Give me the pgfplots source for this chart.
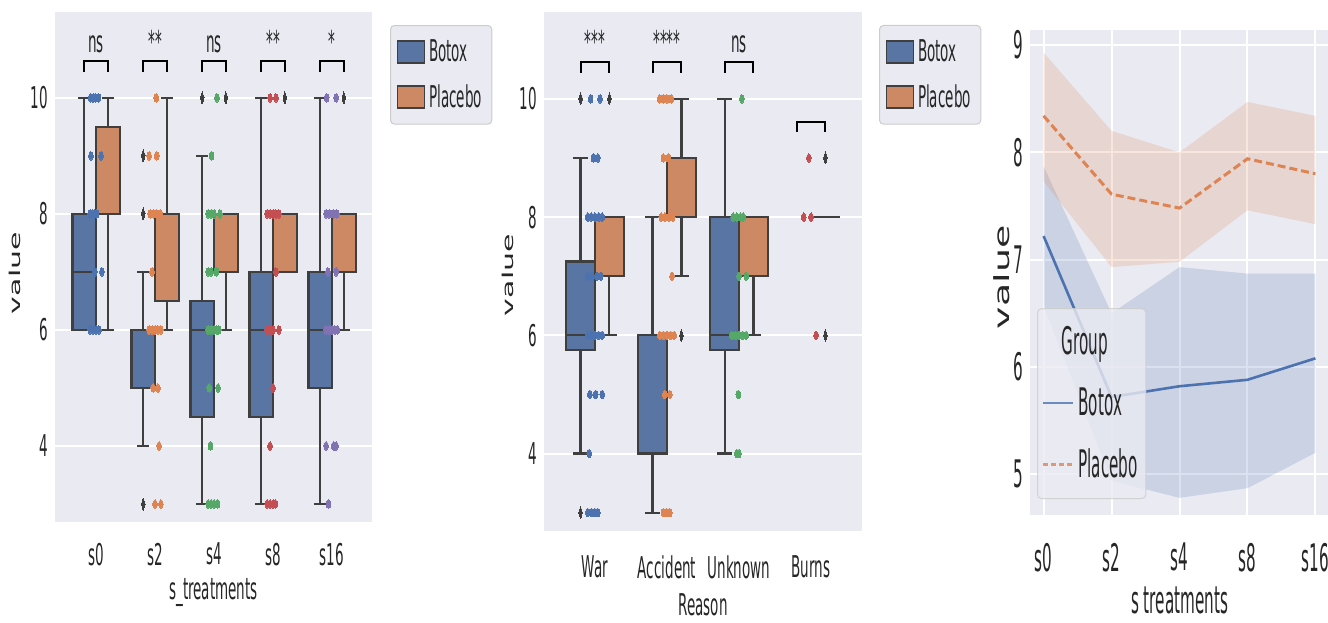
\documentclass[border=0pt]{standalone}
\usepackage{fontspec}
\setmainfont{DejaVu Sans}[FakeStretch=0.45]
\newfontfamily\fontC{DejaVu Sans}[FakeStretch=0.40]
\newfontfamily\plainfont{DejaVu Sans}
\usepackage{graphicx}
\usepackage{pgfplots}
\pgfplotsset{compat=1.18}
\usepgfplotslibrary{statistics}

\definecolor{bgc}{HTML}{EAEAF2}
\definecolor{boxB}{HTML}{5875A4}
\definecolor{boxP}{HTML}{CC8963}
\definecolor{edge}{HTML}{3F3F3F}
\definecolor{txt}{HTML}{262626}
\definecolor{legdraw}{HTML}{CCCCCC}
\definecolor{c0}{HTML}{4C72B0}
\definecolor{c1}{HTML}{DD8452}
\definecolor{c2}{HTML}{55A868}
\definecolor{c3}{HTML}{C44E52}
\definecolor{c4}{HTML}{8172B3}

\pgfplotsset{
  sbbase/.style={
    scale only axis,
    axis background/.style={fill=bgc},
    axis line style={draw=none},
    major tick length=0pt,
    ymajorgrids,
    major grid style={white, line width=1pt},
    tick label style={text=txt},
    label style={text=txt},
    /pgf/number format/assume math mode=true,
  },
  strip/.style={only marks, mark=*, mark size=2.1pt, forget plot, color=#1,
    mark options={xscale=0.55, draw=#1, fill=#1, line width=0pt}},
  bracket/.style={forget plot, black, line width=1pt, mark=none},
  patchB/.style={legend image code/.code={\draw[fill=boxB,draw=edge,line width=0.8pt,sharp corners](0pt,-5.5pt) rectangle (13.5pt,5.5pt);}},
  patchP/.style={legend image code/.code={\draw[fill=boxP,draw=edge,line width=0.8pt,sharp corners](0pt,-5.5pt) rectangle (13.5pt,5.5pt);}},
}

% one box: position, fill, lower whisker, Q1, median, Q3, upper whisker, outlier data
\newcommand{\bx}[8]{%
  \addplot[forget plot,
    boxplot/draw direction=y,
    boxplot prepared={draw position=#1, box extend=0.4, whisker extend=0.2,
      lower whisker=#3, lower quartile=#4, median=#5,
      upper quartile=#6, upper whisker=#7},
    boxplot/every box/.style={fill=#2},
    draw=edge, line width=1.1pt,
    mark=diamond*, mark size=3pt,
    mark options={fill=edge, draw=edge, line width=0pt, xscale=0.4}] #8;}

\begin{document}
\begin{tikzpicture}
\path[use as bounding box] (0,0) rectangle (664pt,311pt);

% ---------------- s_treatments boxplot ----------------
\begin{axis}[sbbase,
  at={(27.5pt,50pt)}, anchor=south west, width=158.5pt, height=255pt,
  xmin=-0.695, xmax=4.678, ymin=2.69, ymax=11.48,
  xtick={0,1,2,3,4}, xticklabels={s0,s2,s4,s8,s16}, ytick={4,6,8,10},
  xticklabel style={yshift=-7pt},
  font=\fontsize{15}{18}\selectfont,
  xlabel={s\_treatments},
  ylabel={\plainfont\scalebox{1}[0.5]{value}},
  xlabel style={at={(axis description cs:0.5,0)}, anchor=center, yshift=-35.5pt},
  ylabel style={at={(axis description cs:-0.126,0.488)}, anchor=center},
  legend style={at={(axis description cs:1,1)}, anchor=north west,
    xshift=9pt, yshift=-6.5pt, draw=legdraw, fill=bgc, rounded corners=2pt,
    line width=0.5pt, inner xsep=3pt, inner ysep=5pt, row sep=6pt,
    text=txt, font=\fontsize{15}{18}\selectfont},
  legend cell align=left,
]
\addlegendimage{patchB}\addlegendentry{Botox}
\addlegendimage{patchP}\addlegendentry{Placebo}

\bx{-0.2}{boxB}{6}{6}{7}{8}{10}{coordinates {}}
\bx{0.2}{boxP}{6}{8}{8}{9.5}{10}{coordinates {}}
\bx{0.8}{boxB}{4}{5}{6}{6}{7}{table[row sep=\\,y index=0]{data\\ 9\\ 8\\ 3\\}}
\bx{1.2}{boxP}{6}{6.5}{8}{8}{10}{coordinates {}}
\bx{1.8}{boxB}{3}{4.5}{6}{6.5}{9}{table[row sep=\\,y index=0]{data\\ 10\\}}
\bx{2.2}{boxP}{6}{7}{8}{8}{8}{table[row sep=\\,y index=0]{data\\ 10\\}}
\bx{2.8}{boxB}{3}{4.5}{6}{7}{10}{coordinates {}}
\bx{3.2}{boxP}{7}{7}{8}{8}{8}{table[row sep=\\,y index=0]{data\\ 10\\}}
\bx{3.8}{boxB}{3}{5}{6}{7}{10}{coordinates {}}
\bx{4.2}{boxP}{6}{7}{8}{8}{8}{table[row sep=\\,y index=0]{data\\ 10\\}}

\addplot[strip=c0] coordinates {(-0.09,10)(-0.05,10)(-0.01,10)(0.04,10)
  (-0.085,9)(0.085,9)(-0.1,8)(-0.06,8)(-0.02,8)(0.01,8)(-0.02,7)(0.1,7)
  (-0.1,6)(-0.05,6)(0,6)(0.05,6)};
\addplot[strip=c1] coordinates {(1.02,10)(0.9,9)(1.03,9)
  (0.92,8)(0.97,8)(1.02,8)(1.09,8)(0.95,7)
  (0.9,6)(0.95,6)(1.0,6)(1.05,6)(1.1,6)(0.97,5)(1.05,5)(1.07,4)(1.0,3)(1.1,3)};
\addplot[strip=c2] coordinates {(2.05,10)(1.96,9)
  (1.9,8)(1.95,8)(2.0,8)(2.1,8)(1.9,7)(1.95,7)(2.04,7)
  (1.9,6)(1.95,6)(2.0,6)(2.05,6)(2.08,6)(1.92,5)(2.07,5)(1.94,4)
  (1.9,3)(1.95,3)(2.0,3)(2.06,3)};
\addplot[strip=c3] coordinates {(2.95,10)(3.05,10)
  (2.9,8)(2.95,8)(3.0,8)(3.05,8)(3.1,8)(3.05,7)
  (2.9,6)(2.95,6)(3.0,6)(3.1,6)(3.0,5)(2.95,4)
  (2.9,3)(2.95,3)(3.0,3)(3.04,3)};
\addplot[strip=c4] coordinates {(3.91,10)(4.07,10)
  (3.9,8)(3.95,8)(4.02,8)(4.08,8)(3.93,7)(4.07,7)
  (3.9,6)(3.95,6)(4.0,6)(4.05,6)(4.09,6)(3.9,4)(4.03,4)(4.07,4)(3.94,3)};

\addplot[bracket] coordinates {(-0.2,10.45)(-0.2,10.64)(0.2,10.64)(0.2,10.45)};
\addplot[bracket] coordinates {(0.8,10.45)(0.8,10.64)(1.2,10.64)(1.2,10.45)};
\addplot[bracket] coordinates {(1.8,10.45)(1.8,10.64)(2.2,10.64)(2.2,10.45)};
\addplot[bracket] coordinates {(2.8,10.45)(2.8,10.64)(3.2,10.64)(3.2,10.45)};
\addplot[bracket] coordinates {(3.8,10.45)(3.8,10.64)(4.2,10.64)(4.2,10.45)};
\node[anchor=base, text=txt] at (axis cs:0,10.78) {ns};
\node[anchor=base, text=txt] at (axis cs:1,10.78) {**};
\node[anchor=base, text=txt] at (axis cs:2,10.78) {ns};
\node[anchor=base, text=txt] at (axis cs:3,10.78) {**};
\node[anchor=base, text=txt] at (axis cs:4,10.78) {*};
\end{axis}

% ---------------- Reason boxplot ----------------
\begin{axis}[sbbase,
  at={(272pt,45.5pt)}, anchor=south west, width=159pt, height=259.5pt,
  xmin=-0.708, xmax=3.708, ymin=2.69, ymax=11.47,
  xtick={0,1,2,3}, xticklabels={War,Accident,Unknown,Burns}, ytick={4,6,8,10},
  xticklabel style={yshift=-9pt},
  font=\fontsize{15}{18}\selectfont,
  xlabel={Reason},
  ylabel={\plainfont\scalebox{1}[0.5]{value}},
  xlabel style={at={(axis description cs:0.5,0)}, anchor=center, yshift=-37pt},
  ylabel style={at={(axis description cs:-0.113,0.493)}, anchor=center},
  legend style={at={(axis description cs:1,1)}, anchor=north west,
    xshift=8.5pt, yshift=-6.5pt, draw=legdraw, fill=bgc, rounded corners=2pt,
    line width=0.5pt, inner xsep=3pt, inner ysep=5pt, row sep=6pt,
    text=txt, font=\fontsize{15}{18}\selectfont},
  legend cell align=left,
]
\addlegendimage{patchB}\addlegendentry{Botox}
\addlegendimage{patchP}\addlegendentry{Placebo}

\bx{-0.2}{boxB}{4}{5.75}{6}{7.25}{9}{table[row sep=\\,y index=0]{data\\ 10\\ 3\\}}
\bx{0.2}{boxP}{6}{7}{8}{8}{8}{table[row sep=\\,y index=0]{data\\ 10\\}}
\bx{0.8}{boxB}{3}{4}{6}{6}{8}{coordinates {}}
\bx{1.2}{boxP}{7}{8}{8}{9}{10}{table[row sep=\\,y index=0]{data\\ 6\\}}
\bx{1.8}{boxB}{4}{5.75}{6}{8}{10}{coordinates {}}
\bx{2.2}{boxP}{6}{7}{8}{8}{8}{coordinates {}}
\bx{3.2}{boxP}{8}{8}{8}{8}{8}{table[row sep=\\,y index=0]{data\\ 9\\ 6\\}}

\addplot[strip=c0] coordinates {(-0.06,10)(0.07,10)(-0.02,9)(0.04,9)
  (-0.1,8)(-0.05,8)(0,8)(0.05,8)(0.1,8)(-0.1,7)(-0.04,7)(0.03,7)(0.08,7)
  (-0.1,6)(-0.05,6)(0,6)(0.05,6)(0.1,6)(-0.07,5)(0.01,5)(0.1,5)(-0.08,4)
  (-0.1,3)(-0.05,3)(0,3)(0.04,3)};
\addplot[strip=c1] coordinates {(0.9,10)(0.95,10)(1.0,10)(1.06,10)(0.95,9)(1.02,9)
  (0.92,8)(0.97,8)(1.03,8)(1.08,8)(1.07,7)
  (0.9,6)(0.95,6)(1.0,6)(1.05,6)(1.1,6)(0.97,5)(1.04,5)(0.95,3)(1.0,3)(1.04,3)};
\addplot[strip=c2] coordinates {(2.04,10)(1.92,8)(1.97,8)(2.02,8)(2.06,8)(2.0,7)(2.1,7)
  (1.9,6)(1.95,6)(2.0,6)(2.05,6)(2.1,6)(1.99,5)(1.97,4)(2.0,4)};
\addplot[strip=c3] coordinates {(2.97,9)(2.9,8)(3.0,8)(3.07,6)};

\addplot[bracket] coordinates {(-0.2,10.44)(-0.2,10.63)(0.2,10.63)(0.2,10.44)};
\addplot[bracket] coordinates {(0.8,10.44)(0.8,10.63)(1.2,10.63)(1.2,10.44)};
\addplot[bracket] coordinates {(1.8,10.44)(1.8,10.63)(2.2,10.63)(2.2,10.44)};
\addplot[bracket] coordinates {(2.8,9.44)(2.8,9.61)(3.2,9.61)(3.2,9.44)};
\node[anchor=base, text=txt] at (axis cs:0,10.78) {***};
\node[anchor=base, text=txt] at (axis cs:1,10.78) {****};
\node[anchor=base, text=txt] at (axis cs:2,10.78) {ns};
\end{axis}

% ---------------- mean lines with bands ----------------
\begin{axis}[sbbase,
  at={(515pt,53.5pt)}, anchor=south west, width=149.5pt, height=242.5pt,
  xmin=-0.2, xmax=4.2, ymin=4.62, ymax=9.14,
  xmajorgrids,
  xtick={0,1,2,3,4}, xticklabels={s0,s2,s4,s8,s16}, ytick={5,6,7,8,9},
  xticklabel style={yshift=-10.5pt},
  font=\fontC\fontsize{19}{22}\selectfont,
  xlabel={s treatments},
  ylabel={\plainfont\scalebox{1}[0.55]{value}},
  xlabel style={at={(axis description cs:0.5,0)}, anchor=center, yshift=-42.5pt, inner sep=0.5pt},
  ylabel style={at={(axis description cs:-0.094,0.49)}, anchor=center},
  legend style={at={(axis description cs:0,0)}, anchor=south west,
    xshift=3.5pt, yshift=8pt, draw=legdraw, fill=bgc, fill opacity=0.8,
    draw opacity=0.8, text opacity=1, rounded corners=2pt,
    line width=0.5pt, inner xsep=2pt, inner ysep=7pt, row sep=11pt,
    text=txt, font=\fontC\fontsize{19}{22}\selectfont},
  legend cell align=left,
]
\addlegendimage{empty legend}\addlegendentry{\hspace*{-8.5pt}Group}
\addlegendimage{legend image code/.code={\draw[c0,line width=1.2pt](0pt,0pt)--(15pt,0pt);}}
\addlegendentry{Botox}
\addlegendimage{legend image code/.code={\draw[c1,line width=1.5pt,dash pattern=on 2.6pt off 1.4pt](0pt,0pt)--(15pt,0pt);}}
\addlegendentry{Placebo}

% confidence bands: upper bound left to right, lower bound right to left
\addplot[forget plot, fill=c0, fill opacity=0.2, draw=none] coordinates {
  (0,7.87)(1,6.50)(2,6.93)(3,6.87)(4,6.87)
  (4,5.20)(3,4.87)(2,4.78)(1,4.94)(0,6.57)};
\addplot[forget plot, fill=c1, fill opacity=0.2, draw=none] coordinates {
  (0,8.93)(1,8.20)(2,8.00)(3,8.47)(4,8.34)
  (4,7.33)(3,7.46)(2,6.98)(1,6.93)(0,7.73)};

\addplot[forget plot, c0, line width=1.3pt, mark=none] coordinates {(0,7.22)(1,5.72)(2,5.82)(3,5.88)(4,6.08)};
\addplot[forget plot, c1, line width=1.5pt, mark=none, dash pattern=on 4pt off 2pt] coordinates {(0,8.34)(1,7.61)(2,7.48)(3,7.94)(4,7.80)};
\end{axis}
\end{tikzpicture}
\end{document}
